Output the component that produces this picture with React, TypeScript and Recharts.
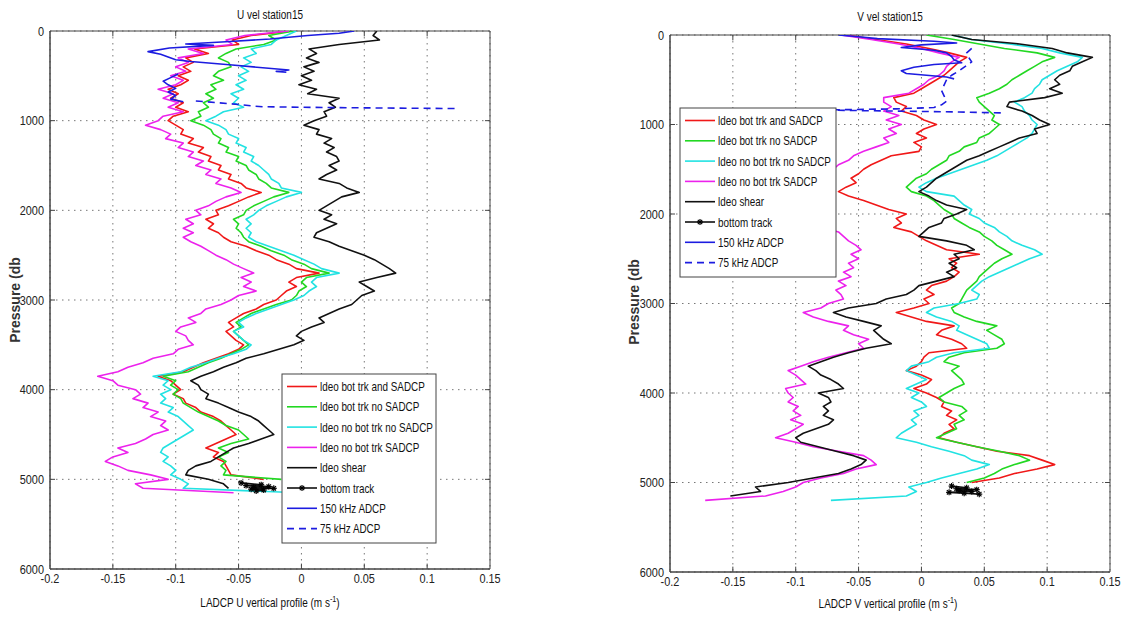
import React from 'react';
import { ScatterChart, Scatter, XAxis, YAxis, CartesianGrid, ReferenceArea, ReferenceLine } from 'recharts';

const fontFamily = '"Liberation Sans", Arial, Helvetica, sans-serif';

// pressure levels (db) shared by the LADCP profiles
const pressure = [
  0, 50, 100, 150, 200, 250, 300, 350, 400, 450,
  500, 550, 600, 650, 700, 750, 800, 850, 900, 950,
  1000, 1050, 1100, 1150, 1200, 1250, 1300, 1350, 1400, 1450,
  1500, 1550, 1600, 1650, 1700, 1750, 1800, 1850, 1900, 1950,
  2000, 2050, 2100, 2150, 2200, 2250, 2300, 2350, 2400, 2450,
  2500, 2550, 2600, 2650, 2700, 2750, 2800, 2850, 2900, 2950,
  3000, 3050, 3100, 3150, 3200, 3250, 3300, 3350, 3400, 3450,
  3500, 3550, 3600, 3650, 3700, 3750, 3800, 3850, 3900, 3950,
  4000, 4050, 4100, 4150, 4200, 4250, 4300, 4350, 4400, 4450,
  4500, 4550, 4600, 4650, 4700, 4750, 4800, 4850, 4900, 4950,
  5000, 5050, 5100, 5150, 5200,
];

const velTicks = [-0.2, -0.15, -0.1, -0.05, 0, 0.05, 0.1, 0.15];
const velTickLabels = ['-0.2', '-0.15', '-0.1', '-0.05', '0', '0.05', '0.1', '0.15'];
const pressureTicks = [0, 1000, 2000, 3000, 4000, 5000, 6000];
const pressureTickLabels = ['0', '1000', '2000', '3000', '4000', '5000', '6000'];

const legendLabels = [
  'ldeo bot trk and SADCP',
  'ldeo bot trk no SADCP',
  'ldeo no bot trk no SADCP',
  'ldeo no bot trk SADCP',
  'ldeo shear',
  'bottom track',
  '150 kHz ADCP',
  '75 kHz ADCP',
];

// ---- U panel ----
const uRed = [
  -0.008, -0.040, -0.055, -0.050, -0.085, -0.074, -0.092, -0.086, -0.094, -0.088,
  -0.098, -0.090, -0.096, -0.106, -0.098, -0.104, -0.094, -0.100, -0.090, -0.102,
  -0.106, -0.100, -0.094, -0.096, -0.086, -0.090, -0.078, -0.082, -0.072, -0.074,
  -0.064, -0.066, -0.056, -0.058, -0.048, -0.044, -0.032, -0.042, -0.050, -0.058,
  -0.068, -0.066, -0.076, -0.070, -0.074, -0.066, -0.062, -0.056, -0.044, -0.036,
  -0.026, -0.020, -0.010, -0.004, 0.014, -0.004, -0.010, -0.004, -0.012, -0.016,
  -0.020, -0.030, -0.036, -0.046, -0.052, -0.058, -0.054, -0.060, -0.056, -0.052,
  -0.046, -0.050, -0.058, -0.068, -0.078, -0.086, -0.094, -0.114, -0.104, -0.100,
  -0.096, -0.102, -0.094, -0.092, -0.084, -0.080, -0.070, -0.064, -0.060, -0.056,
  -0.052, -0.060, -0.068, -0.076, -0.066, -0.070, -0.062, -0.060, -0.058, -0.056,
  -0.030,
];
const uGreen = [
  -0.006, -0.026, -0.020, -0.030, -0.052, -0.060, -0.066, -0.058, -0.056, -0.066,
  -0.070, -0.062, -0.072, -0.068, -0.076, -0.070, -0.078, -0.074, -0.082, -0.080,
  -0.088, -0.078, -0.072, -0.070, -0.064, -0.066, -0.058, -0.060, -0.050, -0.052,
  -0.044, -0.042, -0.036, -0.034, -0.028, -0.024, -0.010, -0.022, -0.030, -0.038,
  -0.044, -0.046, -0.054, -0.050, -0.052, -0.048, -0.046, -0.042, -0.032, -0.024,
  -0.014, -0.008, 0.002, 0.008, 0.022, 0.004, 0.000, 0.004, -0.002, -0.004,
  -0.008, -0.020, -0.030, -0.040, -0.046, -0.052, -0.048, -0.054, -0.050, -0.046,
  -0.042, -0.048, -0.056, -0.064, -0.074, -0.082, -0.090, -0.110, -0.100, -0.104,
  -0.098, -0.102, -0.096, -0.094, -0.088, -0.082, -0.074, -0.066, -0.060, -0.050,
  -0.046, -0.042, -0.056, -0.066, -0.058, -0.066, -0.060, -0.064, -0.060, -0.062,
  -0.016,
];
const uCyan = [
  -0.004, -0.012, -0.020, -0.024, -0.040, -0.036, -0.046, -0.040, -0.048, -0.042,
  -0.050, -0.044, -0.052, -0.046, -0.056, -0.050, -0.054, -0.046, -0.062, -0.068,
  -0.076, -0.066, -0.060, -0.058, -0.050, -0.052, -0.044, -0.046, -0.038, -0.040,
  -0.034, -0.030, -0.026, -0.024, -0.018, -0.016, 0.000, -0.012, -0.020, -0.028,
  -0.034, -0.038, -0.044, -0.040, -0.044, -0.040, -0.042, -0.036, -0.026, -0.016,
  -0.006, 0.002, 0.010, 0.016, 0.030, 0.012, 0.008, 0.012, 0.006, 0.002,
  -0.006, -0.016, -0.026, -0.036, -0.044, -0.050, -0.046, -0.054, -0.050, -0.046,
  -0.040, -0.044, -0.054, -0.066, -0.076, -0.088, -0.096, -0.118, -0.106, -0.110,
  -0.104, -0.112, -0.108, -0.112, -0.102, -0.106, -0.098, -0.094, -0.090, -0.086,
  -0.092, -0.098, -0.104, -0.110, -0.112, -0.106, -0.110, -0.104, -0.100, -0.104,
  -0.096, -0.090, -0.094, -0.002,
];
const uMagenta = [
  -0.010, -0.045, -0.060, -0.055, -0.090, -0.078, -0.098, -0.090, -0.100, -0.092,
  -0.104, -0.094, -0.100, -0.114, -0.102, -0.110, -0.098, -0.106, -0.094, -0.110,
  -0.114, -0.124, -0.112, -0.104, -0.108, -0.094, -0.098, -0.086, -0.090, -0.078,
  -0.084, -0.072, -0.076, -0.064, -0.068, -0.056, -0.048, -0.060, -0.068, -0.074,
  -0.084, -0.080, -0.092, -0.086, -0.094, -0.086, -0.094, -0.088, -0.080, -0.074,
  -0.068, -0.060, -0.054, -0.046, -0.038, -0.048, -0.040, -0.046, -0.036, -0.050,
  -0.056, -0.064, -0.076, -0.080, -0.090, -0.084, -0.096, -0.100, -0.092, -0.090,
  -0.086, -0.098, -0.102, -0.118, -0.126, -0.138, -0.146, -0.162, -0.150, -0.146,
  -0.132, -0.128, -0.134, -0.122, -0.126, -0.114, -0.120, -0.108, -0.112, -0.106,
  -0.118, -0.124, -0.132, -0.146, -0.138, -0.150, -0.156, -0.146, -0.138, -0.120,
  -0.106, -0.132, -0.126, -0.054,
];
const uBlack = [
  0.060, 0.057, 0.062, 0.030, 0.006, 0.012, 0.004, 0.014, 0.002, 0.010,
  0.000, 0.008, -0.002, 0.012, 0.005, 0.030, 0.022, 0.027, 0.018, 0.020,
  0.010, 0.002, 0.014, 0.012, 0.024, 0.018, 0.026, 0.020, 0.028, 0.030,
  0.022, 0.028, 0.020, 0.014, 0.030, 0.036, 0.046, 0.032, 0.026, 0.020,
  0.014, 0.024, 0.018, 0.028, 0.020, 0.012, 0.010, 0.022, 0.030, 0.040,
  0.050, 0.058, 0.064, 0.070, 0.075, 0.060, 0.046, 0.052, 0.058, 0.048,
  0.044, 0.040, 0.030, 0.022, 0.014, 0.018, 0.008, 0.000, -0.004, 0.002,
  -0.006, -0.018, -0.030, -0.044, -0.052, -0.062, -0.070, -0.080, -0.088, -0.082,
  -0.080, -0.074, -0.076, -0.066, -0.058, -0.050, -0.040, -0.034, -0.030, -0.026,
  -0.022, -0.032, -0.042, -0.054, -0.060, -0.066, -0.072, -0.084, -0.090, -0.092,
  -0.074, -0.062, -0.058,
];
const uBottomP = [5040, 5060, 5070, 5080, 5090, 5100, 5110, 5120, 5130];
const uBottom = [-0.048, -0.032, -0.044, -0.026, -0.038, -0.022, -0.040, -0.030, -0.036];
const uBlueP1 = [0, 25, 50, 90, 120, 145, 160, 190, 230, 260, 290, 320, 340, 380, 435, 450, 460];
const uBlue1 = [0.042, 0.030, 0.005, -0.025, -0.060, -0.092, -0.070, -0.105, -0.122, -0.112, -0.106, -0.100, -0.088, -0.055, -0.010, -0.020, -0.012];
const uBlueP2 = [480, 520, 560, 600, 640, 680, 720, 760, 790];
const uBlue2 = [-0.098, -0.104, -0.110, -0.106, -0.100, -0.106, -0.100, -0.104, -0.094];
const uDashP = [780, 800, 820, 835, 845, 855, 865];
const uDash = [-0.084, -0.066, -0.050, -0.040, -0.030, 0.030, 0.124];

// ---- V panel ----
const vRed = [
  -0.060, -0.036, -0.012, 0.006, 0.022, 0.036, 0.030, 0.026, 0.022, 0.018,
  0.012, 0.006, 0.000, -0.006, -0.022, -0.020, -0.012, -0.016, -0.004, 0.002,
  0.012, 0.002, -0.004, 0.004, -0.006, 0.000, -0.002, -0.024, -0.032, -0.040,
  -0.046, -0.050, -0.056, -0.052, -0.060, -0.066, -0.058, -0.046, -0.036, -0.026,
  -0.012, -0.020, -0.016, -0.022, -0.008, -0.002, 0.004, 0.012, 0.020, 0.046,
  0.022, 0.028, 0.024, 0.030, 0.026, 0.020, 0.008, 0.004, 0.010, 0.002,
  0.006, -0.006, -0.020, -0.008, 0.004, 0.026, 0.016, 0.012, 0.024, 0.032,
  0.036, 0.006, 0.002, 0.000, -0.004, -0.012, 0.000, 0.008, 0.004, -0.006,
  0.004, 0.012, 0.018, 0.016, 0.024, 0.020, 0.028, 0.022, 0.026, 0.018,
  0.014, 0.028, 0.044, 0.060, 0.086, 0.096, 0.106, 0.092, 0.074, 0.062,
  0.040,
];
const vGreen = [
  0.004, 0.026, 0.046, 0.066, 0.092, 0.106, 0.096, 0.090, 0.084, 0.078,
  0.072, 0.068, 0.062, 0.054, 0.044, 0.046, 0.050, 0.054, 0.058, 0.056,
  0.062, 0.058, 0.054, 0.046, 0.044, 0.034, 0.030, 0.022, 0.020, 0.014,
  0.008, 0.004, -0.004, -0.008, -0.012, -0.008, 0.004, 0.010, 0.014, 0.018,
  0.024, 0.026, 0.032, 0.038, 0.046, 0.050, 0.056, 0.060, 0.066, 0.072,
  0.064, 0.058, 0.054, 0.050, 0.046, 0.044, 0.040, 0.036, 0.034, 0.032,
  0.030, 0.024, 0.026, 0.034, 0.044, 0.060, 0.052, 0.058, 0.064, 0.066,
  0.060, 0.034, 0.022, 0.018, 0.030, 0.024, 0.028, 0.032, 0.034, 0.026,
  0.020, 0.014, 0.018, 0.032, 0.036, 0.030, 0.034, 0.026, 0.028, 0.020,
  0.012, 0.028, 0.044, 0.062, 0.078, 0.086, 0.074, 0.064, 0.058, 0.050,
  0.036,
];
const vCyan = [
  0.024, 0.040, 0.070, 0.096, 0.110, 0.128, 0.124, 0.116, 0.108, 0.102,
  0.096, 0.094, 0.090, 0.088, 0.082, 0.074, 0.080, 0.082, 0.086, 0.088,
  0.092, 0.090, 0.088, 0.084, 0.078, 0.072, 0.066, 0.060, 0.052, 0.042,
  0.032, 0.022, 0.012, 0.004, -0.002, 0.004, 0.026, 0.030, 0.034, 0.040,
  0.038, 0.046, 0.050, 0.058, 0.062, 0.068, 0.072, 0.080, 0.090, 0.096,
  0.086, 0.078, 0.070, 0.062, 0.054, 0.048, 0.044, 0.040, 0.046, 0.044,
  0.030, 0.010, 0.004, 0.012, 0.024, 0.030, 0.028, 0.036, 0.044, 0.052,
  0.054, 0.026, 0.012, 0.006, -0.008, -0.012, -0.004, 0.004, -0.004, -0.012,
  -0.002, -0.008, 0.000, 0.004, -0.006, -0.002, -0.008, -0.004, -0.010, -0.016,
  -0.020, -0.004, 0.008, 0.022, 0.034, 0.040, 0.054, 0.044, 0.030, 0.016,
  0.004, -0.010, -0.004, -0.012, -0.072,
];
const vMagenta = [
  -0.064, -0.040, -0.018, 0.000, 0.014, 0.030, 0.024, 0.020, 0.018, 0.014,
  0.006, 0.002, -0.004, -0.010, -0.030, -0.030, -0.024, -0.030, -0.018, -0.028,
  -0.016, -0.026, -0.020, -0.030, -0.026, -0.036, -0.046, -0.054, -0.058, -0.066,
  -0.070, -0.078, -0.072, -0.080, -0.086, -0.078, -0.084, -0.090, -0.080, -0.088,
  -0.074, -0.084, -0.070, -0.078, -0.066, -0.062, -0.058, -0.052, -0.048, -0.056,
  -0.050, -0.058, -0.054, -0.062, -0.056, -0.066, -0.060, -0.068, -0.064, -0.062,
  -0.074, -0.080, -0.094, -0.086, -0.074, -0.058, -0.062, -0.054, -0.042, -0.050,
  -0.046, -0.060, -0.074, -0.086, -0.096, -0.106, -0.100, -0.096, -0.092, -0.108,
  -0.106, -0.102, -0.106, -0.098, -0.102, -0.096, -0.104, -0.094, -0.100, -0.106,
  -0.116, -0.100, -0.086, -0.066, -0.046, -0.040, -0.036, -0.052, -0.062, -0.080,
  -0.094, -0.100, -0.110, -0.124, -0.172,
];
const vBlack = [
  0.024, 0.040, 0.078, 0.104, 0.116, 0.136, 0.128, 0.120, 0.118, 0.110,
  0.106, 0.110, 0.102, 0.112, 0.098, 0.070, 0.068, 0.080, 0.088, 0.094,
  0.102, 0.090, 0.092, 0.078, 0.070, 0.062, 0.054, 0.046, 0.036, 0.030,
  0.024, 0.018, 0.012, 0.008, 0.004, -0.002, 0.006, 0.012, 0.020, 0.036,
  0.028, 0.018, 0.016, 0.006, 0.002, -0.002, 0.020, 0.036, 0.042, 0.026,
  0.030, 0.022, 0.028, 0.020, 0.026, 0.012, -0.002, -0.006, -0.012, -0.028,
  -0.036, -0.058, -0.070, -0.060, -0.046, -0.032, -0.038, -0.034, -0.030, -0.024,
  -0.044, -0.058, -0.070, -0.080, -0.090, -0.084, -0.080, -0.072, -0.066, -0.062,
  -0.082, -0.074, -0.072, -0.078, -0.074, -0.078, -0.070, -0.074, -0.084, -0.094,
  -0.100, -0.096, -0.082, -0.068, -0.054, -0.044, -0.048, -0.056, -0.066, -0.086,
  -0.106, -0.132, -0.128, -0.152,
];
const vBottomP = [5040, 5060, 5070, 5080, 5090, 5100, 5110, 5120, 5130];
const vBottom = [0.024, 0.036, 0.028, 0.044, 0.030, 0.040, 0.022, 0.034, 0.046];
const vBlueP = [0, 20, 40, 70, 90, 110, 140, 170, 200, 240, 280, 310, 330, 360, 400, 430, 450, 470, 490];
const vBlue = [-0.066, -0.050, -0.035, 0.010, 0.028, 0.000, -0.016, 0.010, 0.020, 0.024, 0.026, 0.032, 0.010, -0.006, -0.016, -0.012, 0.004, 0.020, 0.026];
const vDashP = [150, 200, 260, 300, 340, 400, 450, 500, 560, 620, 680, 740, 780, 810, 825, 838, 850, 860, 870];
const vDash = [0.040, 0.036, 0.038, 0.040, 0.036, 0.030, 0.024, 0.020, 0.018, 0.016, 0.018, 0.020, 0.016, 0.010, -0.020, -0.080, -0.020, 0.030, 0.064];

const RED = '#f01818';
const GREEN = '#22d822';
const CYAN = '#22e2e2';
const MAGENTA = '#ec22ec';
const BLACK = '#111111';
const BLUE = '#1c1ce0';
const LINE_W = 1.6;

const profile = (vals: number[], depths: number[] = pressure) =>
  vals.map((x, i) => ({ x, p: depths[i] }));

type Series = { key: string; data: { x: number; p: number }[]; color: string; dash?: string; marker?: boolean };

const uSeries: Series[] = [
  { key: 'red', data: profile(uRed), color: RED },
  { key: 'green', data: profile(uGreen), color: GREEN },
  { key: 'cyan', data: profile(uCyan), color: CYAN },
  { key: 'magenta', data: profile(uMagenta), color: MAGENTA },
  { key: 'black', data: profile(uBlack), color: BLACK },
  { key: 'bottom', data: profile(uBottom, uBottomP), color: BLACK, marker: true },
  { key: 'blue1', data: profile(uBlue1, uBlueP1), color: BLUE },
  { key: 'blue2', data: profile(uBlue2, uBlueP2), color: BLUE },
  { key: 'dash', data: profile(uDash, uDashP), color: BLUE, dash: '7 5' },
];

const vSeries: Series[] = [
  { key: 'red', data: profile(vRed), color: RED },
  { key: 'green', data: profile(vGreen), color: GREEN },
  { key: 'cyan', data: profile(vCyan), color: CYAN },
  { key: 'magenta', data: profile(vMagenta), color: MAGENTA },
  { key: 'black', data: profile(vBlack), color: BLACK },
  { key: 'bottom', data: profile(vBottom, vBottomP), color: BLACK, marker: true },
  { key: 'blue', data: profile(vBlue, vBlueP), color: BLUE },
  { key: 'dash', data: profile(vDash, vDashP), color: BLUE, dash: '7 5' },
];

const legendStyles = [
  { color: RED }, { color: GREEN }, { color: CYAN }, { color: MAGENTA },
  { color: BLACK }, { color: BLACK, marker: true }, { color: BLUE }, { color: BLUE, dash: '7 5' },
];

const NoDot = () => <g />;

const Star = (props: any) => {
  const { cx, cy } = props;
  return (
    <g stroke="#000" strokeWidth={1.2}>
      <line x1={cx - 3} y1={cy} x2={cx + 3} y2={cy} />
      <line x1={cx} y1={cy - 3} x2={cx} y2={cy + 3} />
      <line x1={cx - 2.2} y1={cy - 2.2} x2={cx + 2.2} y2={cy + 2.2} />
      <line x1={cx - 2.2} y1={cy + 2.2} x2={cx + 2.2} y2={cy - 2.2} />
    </g>
  );
};

const XTick = (props: any) => {
  const { x, y, index } = props;
  return (
    <g transform={`translate(${x},${y})`}>
      <text transform="scale(0.84,1)" textAnchor="middle" dy={9} fontSize={13} fill="#222" fontFamily={fontFamily}>
        {velTickLabels[index]}
      </text>
    </g>
  );
};

const YTick = (props: any) => {
  const { x, y, index } = props;
  return (
    <g transform={`translate(${x},${y})`}>
      <text transform="scale(0.84,1)" textAnchor="end" dy={4.5} fontSize={13} fill="#222" fontFamily={fontFamily}>
        {pressureTickLabels[index]}
      </text>
    </g>
  );
};

function Panel({ series, width, top, xAxisHeight, right }: { series: Series[]; width: number; top: number; xAxisHeight: number; right: number }) {
  const innerX = velTicks.slice(1, -1);
  const innerP = pressureTicks.slice(1, -1);
  return (
    <ScatterChart width={width} height={623} margin={{ top, right, bottom: 0, left: 0 }}>
      <CartesianGrid strokeDasharray="1.5 4.5" stroke="#777" />
      <XAxis
        type="number"
        dataKey="x"
        domain={[-0.2, 0.15]}
        ticks={velTicks}
        interval={0}
        allowDataOverflow
        height={xAxisHeight}
        axisLine={{ stroke: '#444' }}
        tickLine={false}
        tickSize={3}
        tick={<XTick />}
      />
      <YAxis
        type="number"
        dataKey="p"
        domain={[0, 6000]}
        reversed
        ticks={pressureTicks}
        interval={0}
        allowDataOverflow
        width={50}
        axisLine={{ stroke: '#444' }}
        tickLine={false}
        tickSize={4}
        tick={<YTick />}
      />
      {series.map((s) => (
        <Scatter
          key={s.key}
          data={s.data}
          fill={s.color}
          line={{ stroke: s.color, strokeWidth: LINE_W, strokeDasharray: s.dash, strokeLinejoin: 'round' }}
          lineType="joint"
          shape={s.marker ? Star : NoDot}
          isAnimationActive={false}
        />
      ))}
      {innerX.map((t) => (
        <ReferenceLine key={`xb${t}`} segment={[{ x: t, y: 6000 }, { x: t, y: 5940 }]} stroke="#444" />
      ))}
      {innerX.map((t) => (
        <ReferenceLine key={`xt${t}`} segment={[{ x: t, y: 0 }, { x: t, y: 60 }]} stroke="#444" />
      ))}
      {innerP.map((t) => (
        <ReferenceLine key={`yl${t}`} segment={[{ x: -0.2, y: t }, { x: -0.196, y: t }]} stroke="#444" />
      ))}
      {innerP.map((t) => (
        <ReferenceLine key={`yr${t}`} segment={[{ x: 0.15, y: t }, { x: 0.146, y: t }]} stroke="#444" />
      ))}
      <ReferenceArea x1={-0.2} x2={0.15} y1={0} y2={6000} fill="none" stroke="#444" strokeWidth={1} ifOverflow="visible" />
    </ScatterChart>
  );
}

function LegendBox({ x, y, w, h }: { x: number; y: number; w: number; h: number }) {
  return (
    <g>
      <rect x={x} y={y} width={w} height={h} fill="#fff" stroke="#444" strokeWidth={1} />
      {legendLabels.map((label, i) => {
        const cy = y + 12.5 + i * 20.3;
        const st = legendStyles[i];
        return (
          <g key={label}>
            <line x1={x + 5} x2={x + 35} y1={cy} y2={cy} stroke={st.color} strokeWidth={LINE_W} strokeDasharray={st.dash} />
            {st.marker && <Star cx={x + 20} cy={cy} />}
            <text transform={`translate(${x + 38},${cy + 4.5}) scale(0.79,1)`} fontSize={12.5} fill="#111" fontFamily={fontFamily}>
              {label}
            </text>
          </g>
        );
      })}
    </g>
  );
}

function Texts() {
  const cond = (x: number, y: number, content: React.ReactNode) => (
    <text transform={`translate(${x},${y}) scale(0.8,1)`} textAnchor="middle" fontSize={12.5} fill="#111" fontFamily={fontFamily}>
      {content}
    </text>
  );
  const xLabel = (dir: string) => (
    <>
      {`LADCP ${dir} vertical profile (m s`}
      <tspan dy={-5} fontSize={9}>-1</tspan>
      <tspan dy={5}>)</tspan>
    </>
  );
  return (
    <svg width={1126} height={623} style={{ position: 'absolute', left: 0, top: 0, pointerEvents: 'none' }}>
      {cond(270, 19, 'U vel station15')}
      {cond(890, 21, 'V vel station15')}
      {cond(270, 607, xLabel('U'))}
      {cond(888, 608, xLabel('V'))}
      <text transform="translate(20,300) rotate(-90)" textAnchor="middle" fontSize={14} fontWeight="bold" fill="#333" fontFamily={fontFamily}>
        Pressure (db
      </text>
      <text transform="translate(639,302) rotate(-90)" textAnchor="middle" fontSize={14} fontWeight="bold" fill="#333" fontFamily={fontFamily}>
        Pressure (db
      </text>
      <LegendBox x={282} y={374} w={154} h={169} />
      <LegendBox x={680} y={108} w={156} h={169} />
    </svg>
  );
}

export default function App() {
  return (
    <div style={{ position: 'absolute', left: 0, top: 0, width: 1126, height: 623, background: '#fff', overflow: 'hidden', fontFamily }}>
      <div style={{ position: 'absolute', left: 0, top: 0 }}>
        <Panel series={uSeries} width={560} top={31} xAxisHeight={54} right={70} />
      </div>
      <div style={{ position: 'absolute', left: 620, top: 0 }}>
        <Panel series={vSeries} width={506} top={35} xAxisHeight={51} right={16} />
      </div>
      <Texts />
    </div>
  );
}
